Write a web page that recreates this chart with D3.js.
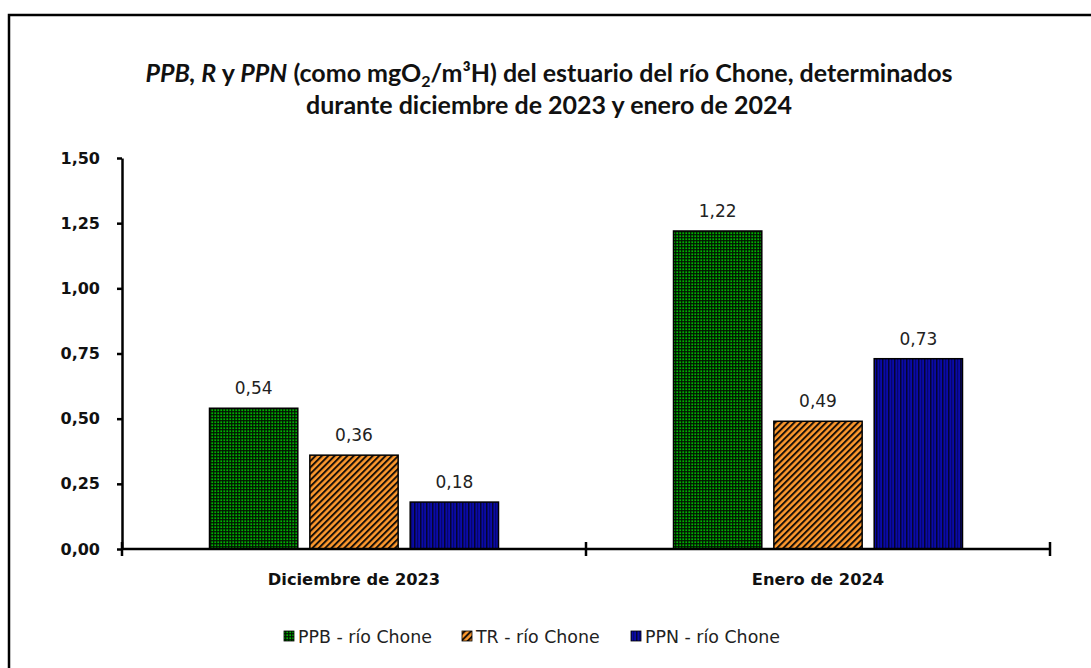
<!DOCTYPE html>
<html><head><meta charset="utf-8">
<script src="https://cdn.jsdelivr.net/npm/d3@7"></script>
<style>body{margin:0;background:#fff}svg{display:block}</style>
</head><body>
<svg id="c" width="1091" height="668"></svg>
<script>
const categories = ["Diciembre de 2023", "Enero de 2024"];
const seriesNames = ["PPB - río Chone", "TR - río Chone", "PPN - río Chone"];
const ppb = [0.54, 1.22];
const tr = [0.36, 0.49];
const ppn = [0.18, 0.73];
const yTicks = [0, 0.25, 0.5, 0.75, 1.0, 1.25, 1.5];

const svg = d3.select("#c");
const defs = svg.append("defs");
// green checker
const pg = defs.append("pattern").attr("id","pGreen").attr("patternUnits","userSpaceOnUse").attr("width",3).attr("height",3);
pg.append("rect").attr("width",3).attr("height",3).attr("fill","#00b400");
pg.append("rect").attr("x",0).attr("y",0).attr("width",1.4).attr("height",3).attr("fill","#021402").attr("opacity",0.9);
pg.append("rect").attr("x",0).attr("y",0).attr("width",3).attr("height",1.4).attr("fill","#021402").attr("opacity",0.9);
// orange diagonal stripes
const po = defs.append("pattern").attr("id","pOrange").attr("patternUnits","userSpaceOnUse").attr("width",4.5).attr("height",4.5).attr("patternTransform","rotate(45)");
po.append("rect").attr("width",4.5).attr("height",4.5).attr("fill","#ff9a2e");
po.append("rect").attr("x",0).attr("y",0).attr("width",2).attr("height",4.5).attr("fill","#1a1008");
// blue vertical stripes
const pb = defs.append("pattern").attr("id","pBlue").attr("patternUnits","userSpaceOnUse").attr("width",6).attr("height",6);
pb.append("rect").attr("width",6).attr("height",6).attr("fill","#0a0aa8");
pb.append("rect").attr("x",0).attr("width",1.5).attr("height",6).attr("fill","#050530");
pb.append("rect").attr("x",3.2).attr("width",1).attr("height",6).attr("fill","#050560");
const fills = ["url(#pGreen)","url(#pOrange)","url(#pBlue)"];

// outer border
svg.append("path").attr("d","M9,668 V15 H1091").attr("fill","none").attr("stroke","#000").attr("stroke-width",2.5);

// title
const titleFont = "Lato, 'Open Sans', sans-serif";
const title = svg.append("text").attr("x",549).attr("y",82).attr("text-anchor","middle")
  .attr("font-family",titleFont).attr("font-weight","bold").attr("font-size",25).attr("fill","#111");
title.append("tspan").attr("font-style","italic").text("PPB, R");
title.append("tspan").text(" y ");
title.append("tspan").attr("font-style","italic").text("PPN");
title.append("tspan").text(" (como mgO");
title.append("tspan").attr("font-size",16).attr("dy",5).text("2");
title.append("tspan").attr("dy",-5).text("/m³H) del estuario del río Chone, determinados");
svg.append("text").attr("x",549).attr("y",114).attr("text-anchor","middle")
  .attr("font-family",titleFont).attr("font-weight","bold").attr("font-size",25).attr("fill","#111")
  .text("durante diciembre de 2023 y enero de 2024");

const x0 = 122, x1 = 1050, yBot = 549, yTop = 158;
const x = d3.scaleBand().domain(categories).range([x0,x1]).paddingInner(0).paddingOuter(0);
const y = d3.scaleLinear().domain([0,1.5]).range([yBot,yTop]);
const xs = d3.scaleBand().domain(seriesNames).range([0,289]).paddingInner(0.12);

const data = [ppb,tr,ppn];
const fmt = v => d3.format(".2f")(v).replace(".", ",");

// bars
categories.forEach((c,ci)=>{
  const gx = x(c) + x.bandwidth()/2 - 144.5;
  seriesNames.forEach((s,si)=>{
    const v = data[si][ci];
    svg.append("rect").attr("x",gx+xs(s)).attr("y",y(v)).attr("width",xs.bandwidth()).attr("height",yBot-y(v))
      .attr("fill",fills[si]).attr("stroke","#000").attr("stroke-width",1.5);
    svg.append("text").attr("x",gx+xs(s)+xs.bandwidth()/2).attr("y",y(v)-14).attr("text-anchor","middle")
      .attr("font-family","DejaVu Sans, sans-serif").attr("font-size",17).attr("fill","#222").text(fmt(v));
  });
});

// y axis
const yAxis = d3.axisLeft(y).tickValues(yTicks).tickSize(5).tickSizeOuter(0).tickPadding(17).tickFormat(fmt);
const gy = svg.append("g").attr("transform",`translate(${x0},0)`).call(yAxis);
gy.select(".domain").attr("stroke","#000").attr("stroke-width",2.5);
gy.selectAll(".tick line").attr("stroke","#000").attr("stroke-width",2.5);
gy.selectAll("text").attr("font-family","DejaVu Sans, sans-serif").attr("font-weight","bold").attr("font-size",16).attr("fill","#111");

// x axis
svg.append("line").attr("x1",x0).attr("x2",x1).attr("y1",yBot).attr("y2",yBot).attr("stroke","#000").attr("stroke-width",2.5);
[x0, x0 + x.bandwidth(), x1].forEach(t=>{
  svg.append("line").attr("x1",t).attr("x2",t).attr("y1",yBot-7).attr("y2",yBot+7).attr("stroke","#000").attr("stroke-width",2.5);
});
categories.forEach(c=>{
  svg.append("text").attr("x",x(c)+x.bandwidth()/2).attr("y",585).attr("text-anchor","middle")
    .attr("font-family","DejaVu Sans, sans-serif").attr("font-weight","bold").attr("font-size",16.3).attr("fill","#111").text(c);
});

// legend
const legX = [284, 462, 631];
seriesNames.forEach((s,i)=>{
  svg.append("rect").attr("x",legX[i]).attr("y",631).attr("width",10).attr("height",10)
    .attr("fill",fills[i]).attr("stroke","#000").attr("stroke-width",0.8);
  svg.append("text").attr("x",legX[i]+14).attr("y",642.5).attr("font-family","DejaVu Sans, sans-serif")
    .attr("font-size",17.4).attr("fill","#222").text(s);
});
</script>
</body></html>
